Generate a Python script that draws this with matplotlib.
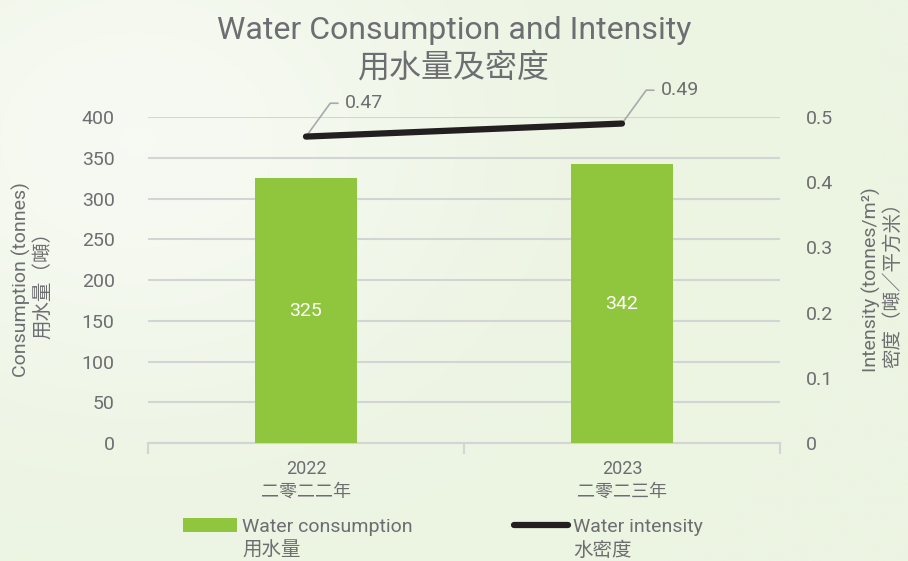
import numpy as np
import matplotlib.pyplot as plt
from matplotlib.colors import LinearSegmentedColormap
from matplotlib.patches import Patch
from matplotlib.lines import Line2D

# data
years = ["2022\n二零二二年", "2023\n二零二三年"]
consumption = [325, 342]
intensity = [0.47, 0.49]
left_ticks = [0, 50, 100, 150, 200, 250, 300, 350, 400]
right_ticks = [0, 0.1, 0.2, 0.3, 0.4, 0.5]
right_labels = ["0", "0.1", "0.2", "0.3", "0.4", "0.5"]

GREEN = "#8fc63d"
DARK = "#231f20"
GRAY = "#6d6e71"
GRID = "#d3d4d4"

plt.rcParams['font.family'] = ['Roboto', 'Noto Sans CJK TC', 'DejaVu Sans']

fig = plt.figure(figsize=(9.08, 5.61), dpi=100)
fig.patch.set_facecolor("#eef5e6")

# soft background gradient
bg = fig.add_axes([0, 0, 1, 1], zorder=-10)
yy, xx = np.mgrid[0:1:200j, 0:1:300j]
glow = np.exp(-(((xx - 0.15) / 0.35) ** 2 + ((yy - 0.75) / 0.45) ** 2))
bg.imshow(glow, cmap=LinearSegmentedColormap.from_list("bg", ["#ecf4e2", "#f7faf3"]),
          extent=[0, 1, 0, 1], aspect="auto", origin="lower")
bg.axis("off")

ax = fig.add_axes([0.163, 0.2103, 0.696, 0.5811])
ax.patch.set_alpha(0)
x = np.arange(len(years))

bars = ax.bar(x, consumption, width=0.32, color=GREEN, zorder=3)
for xi, v in zip(x, consumption):
    ax.text(xi, v / 2, str(v), ha="center", va="center", color="white", fontsize=14, zorder=4)

ax.set_ylim(0, 400)
ax.set_xlim(-0.5, 1.5)
ax.set_yticks(left_ticks)
ax.yaxis.grid(True, color=GRID, linewidth=1.5, zorder=0)
ax.set_axisbelow(True)
for s in ["top", "right", "left"]:
    ax.spines[s].set_visible(False)
ax.spines["bottom"].set_color(GRID)
ax.spines["bottom"].set_linewidth(1.5)
ax.tick_params(axis="y", length=0, pad=24, labelsize=14, labelcolor=GRAY)
ax.set_xticks(x)
ax.set_xticklabels(years, linespacing=1.35)
ax.tick_params(axis="x", length=0, pad=12, labelsize=13, labelcolor=GRAY)
ax.set_xticks([-0.5, 0.5, 1.5], minor=True)
ax.tick_params(axis="x", which="minor", length=8, width=1.5, color=GRID)
ax.set_ylabel("Consumption (tonnes)\n用水量（噸）", fontsize=14, color=GRAY, labelpad=21,
              linespacing=1.15)

ax2 = ax.twinx()
ax2.set_ylim(0, 0.5)
ax2.set_yticks(right_ticks)
ax2.set_yticklabels(right_labels)
for s in ["top", "right", "left", "bottom"]:
    ax2.spines[s].set_visible(False)
ax2.tick_params(axis="y", length=0, pad=19, labelsize=14, labelcolor=GRAY)
ax2.plot(x, intensity, color=DARK, linewidth=4.5, solid_capstyle="round", zorder=5)
for xi, v in zip(x, intensity):
    ax2.annotate(f"{v:.2f}", xy=(xi, v), xytext=(28, 24), textcoords="offset points",
                 fontsize=14, color=GRAY, va="center", ha="left",
                 arrowprops=dict(arrowstyle="-", color="#a7a9ac", lw=1.2,
                                 connectionstyle="angle,angleA=0,angleB=54,rad=0",
                                 relpos=(0, 0.5), shrinkA=3, shrinkB=2))
ax2.set_ylabel("Intensity (tonnes/m²)\n密度（噸／平方米）", fontsize=14, color=GRAY,
               labelpad=20, linespacing=1.15)

fig.suptitle("Water Consumption and Intensity\n用水量及密度", y=0.972, fontsize=23,
             color=GRAY, linespacing=1.3)

blank = Patch(facecolor="none", edgecolor="none")
handles = [Patch(facecolor=GREEN), blank,
           Line2D([0], [0], color=DARK, linewidth=4.5, solid_capstyle="round"), blank]
labels = ["Water consumption", "用水量", "Water intensity", "水密度"]
fig.legend(handles, labels, ncol=2, loc="lower left", bbox_to_anchor=(0.182, -0.03),
           frameon=False, fontsize=14, labelcolor=GRAY, handlelength=2.8,
           handletextpad=0.25, columnspacing=5.2, labelspacing=0.3)

fig.savefig("out.png", dpi=100, facecolor=fig.get_facecolor())
